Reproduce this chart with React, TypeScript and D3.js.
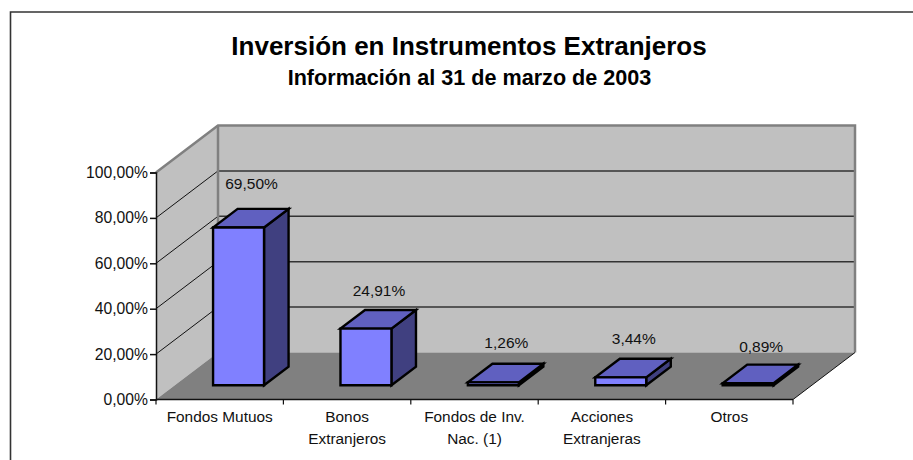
import * as d3 from "d3";
import { useEffect, useRef } from "react";

const categories = ["Fondos Mutuos", "Bonos Extranjeros", "Fondos de Inv. Nac. (1)", "Acciones Extranjeras", "Otros"];
const categoryLines = [["Fondos Mutuos"], ["Bonos", "Extranjeros"], ["Fondos de Inv.", "Nac. (1)"], ["Acciones", "Extranjeras"], ["Otros"]];
const shares = [69.5, 24.91, 1.26, 3.44, 0.89];
const yTicks = [0, 20, 40, 60, 80, 100];
const labelLift = [38, 33, 34.5, 33, 31];

const title = "Inversión en Instrumentos Extranjeros";
const subtitle = "Información al 31 de marzo de 2003";

const width = 913;
const height = 460;
const font = "'Liberation Sans', Arial, sans-serif";

const App = () => {
  const svgRef = useRef<SVGSVGElement | null>(null);

  useEffect(() => {
    const svg = d3.select(svgRef.current);
    svg.selectAll("*").remove();

    // front plane of the 3D box and how far the back wall is shifted
    const x = d3.scaleBand<string>().domain(categories).range([156, 793]).paddingInner(0.6).paddingOuter(0.3);
    const y = d3.scaleLinear().domain([0, 100]).range([399.5, 172.5]);
    const depthX = 62;
    const depthY = 47;
    const barFront = 0.304;
    const barBack = 0.7;

    const pt = (px: number, value: number, depth: number): [number, number] => [
      px + depth * depthX,
      y(value) - depth * depthY,
    ];
    const poly = d3.line().curve(d3.curveLinearClosed);
    const [x0, x1] = x.range();

    // outer frame, only top and left show in the crop
    svg.append("path").attr("d", `M10.5,${height}V12H${width}`).attr("fill", "none").attr("stroke", "#333").attr("stroke-width", 1.6);

    // walls and floor
    svg.append("path").attr("fill", "#c0c0c0").attr("d", poly([pt(x0, 0, 1), pt(x1, 0, 1), pt(x1, 100, 1), pt(x0, 100, 1)]));
    svg.append("path").attr("fill", "#c0c0c0").attr("d", poly([pt(x0, 0, 0), pt(x0, 0, 1), pt(x0, 100, 1), pt(x0, 100, 0)]));
    svg.append("path").attr("fill", "#808080").attr("d", poly([pt(x0, 0, 0), pt(x1, 0, 0), pt(x1, 0, 1), pt(x0, 0, 1)]));

    // gridlines
    yTicks.slice(1, -1).forEach((t) => {
      svg.append("path").attr("fill", "none").attr("stroke", "#333").attr("stroke-width", 1.5)
        .attr("d", d3.line()([pt(x0, t, 1), pt(x1, t, 1)]));
      svg.append("path").attr("fill", "none").attr("stroke", "#111").attr("stroke-width", 1)
        .attr("d", d3.line()([pt(x0, t, 0), pt(x0, t, 1)]));
    });

    // wall outline
    svg.append("path").attr("fill", "none").attr("stroke", "#808080").attr("stroke-width", 2.5)
      .attr("d", d3.line()([pt(x0, 100, 0), pt(x0, 100, 1), pt(x1, 100, 1), pt(x1, 0, 1)]));
    svg.append("path").attr("fill", "none").attr("stroke", "#808080").attr("stroke-width", 2.5)
      .attr("d", d3.line()([pt(x0, 100, 1), pt(x0, 0, 1)]));
    svg.append("path").attr("fill", "none").attr("stroke", "#111").attr("stroke-width", 1)
      .attr("d", d3.line()([pt(x1, 0, 0), pt(x1, 0, 1)]));

    // bars
    const bars = svg.append("g").attr("stroke", "#000").attr("stroke-width", 2.4).attr("stroke-linejoin", "miter");
    categories.forEach((c, i) => {
      const l = x(c)!;
      const r = l + x.bandwidth();
      const v = shares[i];
      bars.append("path").attr("fill", "#404080")
        .attr("d", poly([pt(r, 0, barFront), pt(r, 0, barBack), pt(r, v, barBack), pt(r, v, barFront)]));
      bars.append("path").attr("fill", "#6060c0")
        .attr("d", poly([pt(l, v, barFront), pt(r, v, barFront), pt(r, v, barBack), pt(l, v, barBack)]));
      bars.append("path").attr("fill", "#8080ff")
        .attr("d", poly([pt(l, 0, barFront), pt(r, 0, barFront), pt(r, v, barFront), pt(l, v, barFront)]));

      const top = pt(l + x.bandwidth() / 2, v, barFront);
      svg.append("text")
        .attr("x", top[0] + 13)
        .attr("y", top[1] - labelLift[i])
        .attr("text-anchor", "middle")
        .attr("font-family", font)
        .attr("font-size", 15.5)
        .attr("fill", "#111")
        .text(`${d3.format(".2f")(v).replace(".", ",")}%`);
    });

    // axes
    const yAxis = svg.append("g")
      .attr("transform", `translate(${x0},0)`)
      .call(d3.axisLeft(y).tickValues(yTicks).tickSize(6).tickPadding(2)
        .tickFormat((d) => `${d3.format(".2f")(+d).replace(".", ",")}%`));
    yAxis.selectAll("text").attr("font-family", font).attr("font-size", 15.7).attr("fill", "#111");
    yAxis.selectAll("line,path").attr("stroke", "#111").attr("stroke-width", 1.5);

    svg.append("path").attr("stroke", "#111").attr("stroke-width", 1.5).attr("fill", "none")
      .attr("d", d3.line()([pt(x0, 0, 0), pt(x1, 0, 0)]));
    const step = x.step();
    d3.range(categories.length + 1).forEach((i) => {
      svg.append("path").attr("stroke", "#111").attr("stroke-width", 1.2).attr("fill", "none")
        .attr("d", d3.line()([[x0 + i * step, y(0)], [x0 + i * step, y(0) + 5]]));
    });

    categories.forEach((c, i) => {
      const t = svg.append("text")
        .attr("text-anchor", "middle")
        .attr("font-family", font)
        .attr("font-size", 15.4)
        .attr("fill", "#111");
      categoryLines[i].forEach((line, j) => {
        t.append("tspan")
          .attr("x", x0 + (i + 0.5) * step)
          .attr("y", 422 + j * 21.5)
          .text(line);
      });
    });

    // titles
    svg.append("text").attr("x", 469).attr("y", 55).attr("text-anchor", "middle")
      .attr("font-family", font).attr("font-weight", "bold").attr("font-size", 26).text(title);
    svg.append("text").attr("x", 469.5).attr("y", 85).attr("text-anchor", "middle")
      .attr("font-family", font).attr("font-weight", "bold").attr("font-size", 21.6).text(subtitle);
  }, []);

  return (
    <svg
      ref={svgRef}
      width={width}
      height={height}
      style={{ position: "absolute", left: 0, top: 0, display: "block", background: "#fff" }}
    ></svg>
  );
};

export default App;
